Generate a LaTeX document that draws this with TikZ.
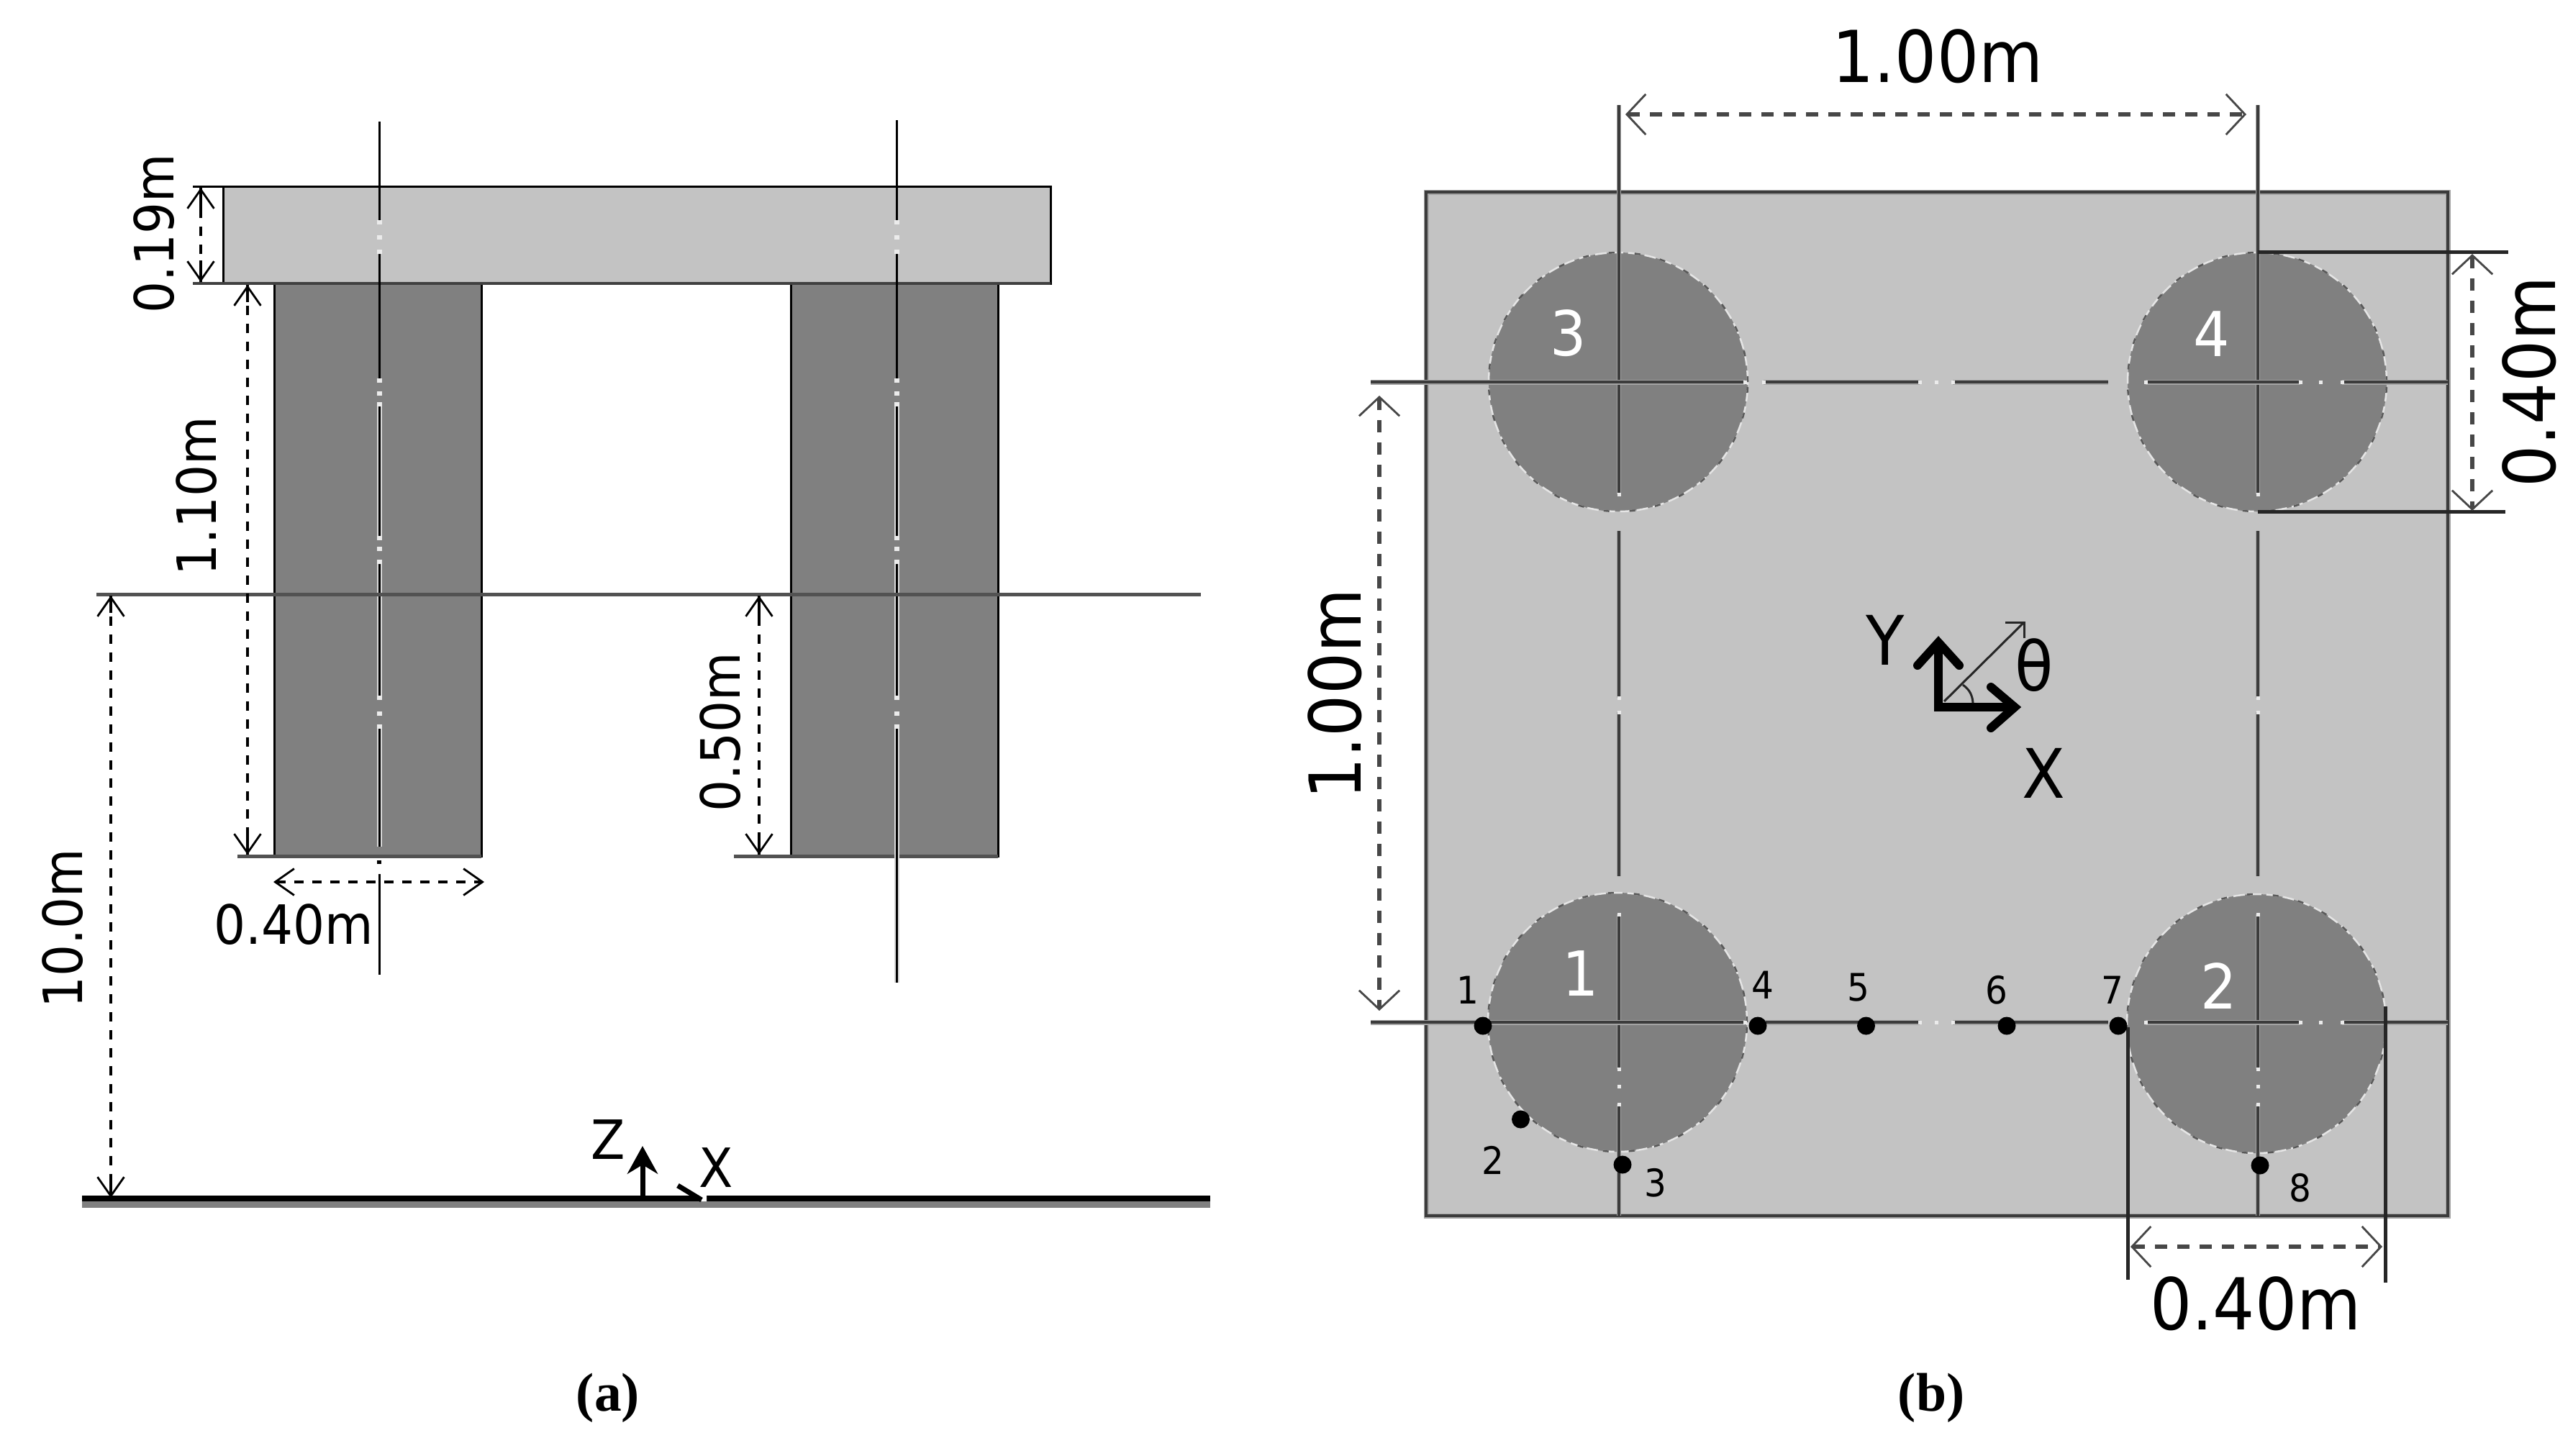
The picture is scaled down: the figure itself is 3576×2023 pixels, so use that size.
\documentclass[tikz,border=0pt]{standalone}
\usepackage{fontspec}
\setmainfont{DejaVu Sans}
\newfontfamily\dimfont[FakeStretch=0.92]{DejaVu Sans}
\newfontfamily\capfont{Liberation Serif}
\usetikzlibrary{arrows.meta}
\definecolor{slabgray}{HTML}{C3C3C3}
\definecolor{colgray}{HTML}{808080}
\definecolor{linedark}{HTML}{3C3C3C}
\definecolor{halo}{HTML}{A4A4A4}
\tikzset{
  px/.style={line width=#1*0.01cm},
  slabbox/.style={fill=slabgray,draw=black,px=3},
  colbox/.style={fill=colgray,draw=black,px=3},
  greyrule/.style={draw=black!68,px=5},
  rline/.style={draw=linedark,px=3.2},
  rhaloh/.style={draw=halo,px=7},
  rhalov/.style={draw=halo,px=5.5},
  rext/.style={draw=black!85,px=5},
  ldim/.style={draw=black,px=4,dash pattern=on 13*0.01cm off 12*0.01cm,
     {Straight Barb[length=7.5pt,width=10.5pt,line width=0.8pt]}-{Straight Barb[length=7.5pt,width=10.5pt,line width=0.8pt]}},
  rdim/.style={draw=black!72,px=6,dash pattern=on 17*0.01cm off 14*0.01cm,
     {Straight Barb[length=7.5pt,width=16pt,line width=0.8pt]}-{Straight Barb[length=7.5pt,width=16pt,line width=0.8pt]}},
  ltxt/.style={inner sep=0pt,font=\dimfont\fontsize{21.4pt}{24pt}\selectfont},
  rtxt/.style={inner sep=0pt,font=\dimfont\fontsize{28.3pt}{32pt}\selectfont},
  ptnum/.style={inner sep=0pt,font=\dimfont\fontsize{15pt}{18pt}\selectfont},
  pilenum/.style={inner sep=0pt,text=white,font=\dimfont\fontsize{24.5pt}{28pt}\selectfont},
  axtxt/.style={inner sep=0pt,font=\dimfont\fontsize{27pt}{32pt}\selectfont},
  captxt/.style={inner sep=0pt,font=\capfont\bfseries\fontsize{21.5pt}{25pt}\selectfont},
  pile/.style={fill=colgray,draw=black!10,px=2.5,dash pattern=on 16*0.01cm off 7*0.01cm},
  pilerim/.style={draw=black!65,px=2.5,dash pattern=on 8*0.01cm off 28*0.01cm},
  probe/.style={fill=black},
  speck/.style={fill=white!92!black},
}
\begin{document}
\begin{tikzpicture}[x=0.01cm,y=-0.01cm]
\useasboundingbox (0,0) rectangle (3576,2023);
\fill[white] (0,0) rectangle (3576,2023);
%% ---------- panel (a) ----------
\draw[slabbox] (310,259) rectangle (1460,394);
\draw[colbox] (381,394) rectangle (669,1190);
\draw[colbox] (1099,394) rectangle (1387,1190);
\draw[black,px=3] (268,259) -- (310,259);
\draw[black!75,px=4] (268,394) -- (1460,394);
\draw[greyrule] (330,1190) -- (381,1190);
\draw[greyrule] (1020,1190) -- (1099,1190);
\draw[greyrule] (381,1190) -- (669,1190);
\draw[greyrule] (1099,1190) -- (1387,1190);
% centre lines (a)
\foreach \cx/\top/\bot/\end/\last in {527/169/1355/1177/1215,1246/167/1366/1366/1366}{
  \foreach \a/\b in {562/748,781/970,1010/\end}{
    \draw[white!85!black,px=7] (\cx,\a) -- (\cx,\b);
  }
  \foreach \a/\b in {\top/309,350/529,562/748,781/970,1010/\end,\last/\bot}{
    \draw[black,px=3] (\cx,\a) -- (\cx,\b);
  }
  \foreach \a in {309,330,350,529,547,562,748,763,781,970,992,1010}{
    \fill[speck] (\cx-3.5,\a-3) rectangle (\cx+3.5,\a+3);
  }
}
\fill[black] (524,1196) rectangle (530,1201);
\draw[black!68,px=5] (134,826) -- (1669,826);
\fill[colgray] (114,1670) rectangle (1682,1679);
\fill[black] (114,1662) rectangle (1682,1670);
\coordinate (zbase) at (893,1662);
\coordinate (ztip) at (893,1593);
\draw[black,px=7,-{Stealth[length=11pt,width=12pt]}] (zbase) -- (ztip);
\fill[white] (968,1660) -- (982,1660) -- (982,1670) -- (975,1670) -- cycle;
\coordinate (xa) at (942,1648);
\coordinate (xb) at (975,1668);
\draw[black,px=7] (xa) -- (xb);
% dimension lines (a)
\coordinate (d19a) at (279,261); \coordinate (d19b) at (279,392);
\draw[ldim] (d19a) -- (d19b);
\coordinate (d110a) at (344,396); \coordinate (d110b) at (344,1188);
\draw[ldim] (d110a) -- (d110b);
\coordinate (d10a) at (154,828); \coordinate (d10b) at (154,1665);
\draw[ldim] (d10a) -- (d10b);
\coordinate (d50a) at (1055,828); \coordinate (d50b) at (1055,1188);
\draw[ldim] (d50a) -- (d50b);
\coordinate (d40a) at (380,1226); \coordinate (d40b) at (673,1226);
\draw[ldim] (d40a) -- (d40b);
% solid stems beside the vertical arrow tips
\draw[black,px=4] (d19a) -- +(0,30) (d19b) -- +(0,-30);
\draw[black,px=4] (d110a) -- +(0,24) (d110b) -- +(0,-30);
\draw[black,px=4] (d10a) -- +(0,24) (d10b) -- +(0,-24);
\draw[black,px=4] (d50a) -- +(0,30) (d50b) -- +(0,-30);
\node[ltxt,rotate=90] (t019) at (214,325) {0.19m};
\node[ltxt,rotate=90] (t110) at (273,690) {1.10m};
\node[ltxt,rotate=90] (t050) at (1001,1018) {0.50m};
\node[ltxt,rotate=90] (t100) at (87,1291) {10.0m};
\node[ltxt] (t040) at (408,1285) {0.40m};
\node[ltxt] (tz) at (845,1584) {Z};
\node[ltxt] (tx) at (995,1623) {X};
\node[captxt] (capa) at (845,1943) {(a)};
%% ---------- panel (b) ----------
\fill[slabgray] (1982,267) rectangle (3402,1690);
\draw[draw=halo,px=7] (1982,267) rectangle (3402,1690);
\draw[draw=linedark,px=3.2] (1982,267) rectangle (3402,1690);
\foreach \n/\cx/\cy in {p3/2249/531,p4/3137/531,p1/2248/1421,p2/3136/1423}{
  \path[pile] (\cx,\cy) circle (180*0.01cm);
  \path[pilerim] (\cx,\cy) circle (180*0.01cm);
}
% centre lines of the plan
\foreach \x in {2250,3138}{
  \foreach \a/\b in {146/687,738/970,990/1218,1271/1486,1535/1690}{
    \draw[rhalov] (\x,\a) -- (\x,\b);
    \draw[rline] (\x,\a) -- (\x,\b);
  }
  \foreach \a in {687,970,990,1271,1486,1510,1535}{
    \fill[speck] (\x-2.5,\a-2.5) rectangle (\x+2.5,\a+2.5);
  }
}
\foreach \y in {531,1421}{
  \foreach \a/\b in {1905/2425,2451/2668,2714/2930,2982/3197,3255/3402}{
    \draw[rhaloh] (\a,\y) -- (\b,\y);
    \draw[rline] (\a,\y) -- (\b,\y);
  }
  \foreach \a in {2425,2451,2668,2691,2714,2982,3197,3225,3255}{
    \fill[speck] (\a-2.5,\y-2.5) rectangle (\a+2.5,\y+2.5);
  }
}
% extension lines
\draw[rext] (3138,350) -- (3486,350);
\draw[rext] (3138,711.5) -- (3482,711.5);
\draw[rext] (2957,1428) -- (2957,1779);
\draw[rext] (3315,1399) -- (3315,1783);
% dimensions (b)
\coordinate (b100a) at (2259,159); \coordinate (b100b) at (3122,159);
\draw[rdim] (b100a) -- (b100b);
\coordinate (b100c) at (1917,550); \coordinate (b100d) at (1917,1405);
\draw[rdim] (b100c) -- (b100d);
\coordinate (b40a) at (3436,353); \coordinate (b40b) at (3436,710);
\draw[rdim] (b40a) -- (b40b);
\coordinate (b40c) at (2961,1733); \coordinate (b40d) at (3311,1733);
\draw[rdim] (b40c) -- (b40d);
\node[rtxt] (r100t) at (2693,78) {1.00m};
\node[rtxt,rotate=90] (r100l) at (1855,965) {1.00m};
\node[rtxt,rotate=90] (r40r) at (3515,531) {0.40m};
\node[rtxt] (r40b) at (3135,1812) {0.40m};
% probes
\foreach \n/\x/\y in {pa/2061/1426,pb/2113.5/1556,pc/2255/1619,pd/2443/1426,pe/2593.5/1426,pf/2789/1426,pg/2944/1426,ph/3141/1620}{
  \fill[probe] (\x,\y) circle (12.5*0.01cm);
}
\node[ptnum] (n1) at (2040,1376) {1};
\node[ptnum] (n2) at (2075,1613) {2};
\node[ptnum] (n3) at (2301,1644) {3};
\node[ptnum] (n4) at (2450,1369) {4};
\node[ptnum] (n5) at (2583,1373) {5};
\node[ptnum] (n6) at (2775,1376) {6};
\node[ptnum] (n7) at (2936,1376) {7};
\node[ptnum] (n8) at (3197,1651) {8};
\node[pilenum] (pn1) at (2197,1353) {1};
\node[pilenum] (pn2) at (3084,1370) {2};
\node[pilenum] (pn3) at (2180,463) {3};
\node[pilenum] (pn4) at (3074,464) {4};
% axes
\coordinate (o) at (2694,983);
\coordinate (oy) at (2694,893);
\coordinate (ox) at (2800,983);
\draw[black,px=12,line join=miter] (oy) -- (o) -- (ox);
\draw[black,px=12,line cap=round,line join=miter] (2665,925) -- (2694,893) -- (2723,925);
\draw[black,px=12,line cap=round,line join=miter] (2767,955) -- (2800,983) -- (2767,1012);
\coordinate (th) at (2813,865);
\draw[black!85,px=3] (2702,975) -- (th);
\draw[black!85,px=3] (2787,865) -- (th) -- (2813,887);
\draw[black!85,px=3] (2728,952) to[bend left=25] (2742,977);
\node[axtxt] (ty) at (2620,890) {Y};
\node[axtxt] (txx) at (2840,1075) {X};
\node[axtxt] (tth) at (2827,925) {θ};
\node[captxt] (capb) at (2684,1943) {(b)};
\end{tikzpicture}
\end{document}
